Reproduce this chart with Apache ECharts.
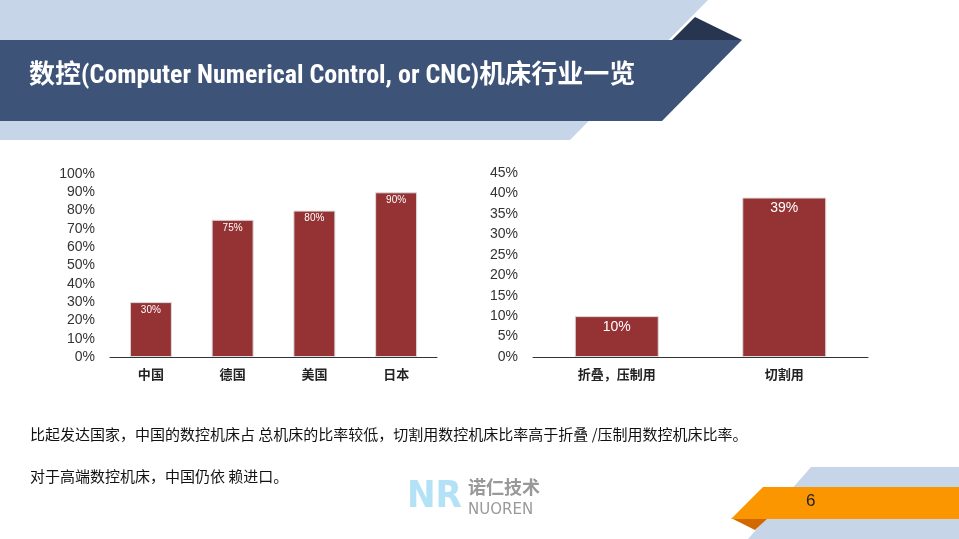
<!DOCTYPE html>
<html><head><meta charset="utf-8">
<script src="https://cdn.jsdelivr.net/npm/echarts@6/dist/echarts.min.js"></script>
<style>html,body{margin:0;padding:0;background:#fff}#c{width:959px;height:539px}</style>
</head><body><div id="c"></div>
<script>
// left chart: share of CNC machine tools by country
var countries = ['中国', '德国', '美国', '日本'];
var cncShare = [30, 75, 80, 90];
// right chart: CNC share by machine type
var machineTypes = ['折叠，压制用', '切割用'];
var typeShare = [10, 39];

var barColor = '#943234';
var font = 'Arial, "Liberation Sans", "Noto Sans CJK SC", sans-serif';

var chart = echarts.init(document.getElementById('c'));

function poly(points, color) {
  return { type: 'polygon', shape: { points: points }, style: { fill: color }, silent: true };
}

chart.setOption({
  animation: false,
  grid: [
    { left: 110, right: 522, top: 174, bottom: 182 },
    { left: 533, right: 91, top: 173, bottom: 182 }
  ],
  xAxis: [
    { gridIndex: 0, type: 'category', data: countries,
      axisLine: { lineStyle: { color: '#333', width: 1 } }, axisTick: { show: false },
      axisLabel: { color: '#222', fontSize: 13, fontWeight: 'bold', fontFamily: font, margin: 12 } },
    { gridIndex: 1, type: 'category', data: machineTypes,
      axisLine: { lineStyle: { color: '#333', width: 1 } }, axisTick: { show: false },
      axisLabel: { color: '#222', fontSize: 13, fontWeight: 'bold', fontFamily: font, margin: 12 } }
  ],
  yAxis: [
    { gridIndex: 0, type: 'value', min: 0, max: 100, interval: 10,
      axisLine: { show: false }, axisTick: { show: false }, splitLine: { show: false },
      axisLabel: { color: '#333', fontSize: 14, fontFamily: font, margin: 15, formatter: '{value}%' } },
    { gridIndex: 1, type: 'value', min: 0, max: 45, interval: 5,
      axisLine: { show: false }, axisTick: { show: false }, splitLine: { show: false },
      axisLabel: { color: '#333', fontSize: 14, fontFamily: font, margin: 15, formatter: '{value}%' } }
  ],
  series: [
    { type: 'bar', xAxisIndex: 0, yAxisIndex: 0, data: cncShare, barWidth: 42,
      itemStyle: { color: barColor, borderColor: '#ddd', borderWidth: 1 },
      label: { show: true, position: 'insideTop', distance: 3, color: '#fff', fontSize: 10, fontFamily: font, formatter: '{c}%' } },
    { type: 'bar', xAxisIndex: 1, yAxisIndex: 1, data: typeShare, barWidth: 84,
      itemStyle: { color: barColor, borderColor: '#ddd', borderWidth: 1 },
      label: { show: true, position: 'insideTop', distance: 4, color: '#fff', fontSize: 14, fontFamily: font, formatter: '{c}%' } }
  ],
  graphic: [
    poly([[0, 0], [708, 0], [570, 140], [0, 140]], '#c7d5e8'),
    poly([[695, 17], [742, 40], [672, 40]], '#283550'),
    poly([[0, 40], [742, 40], [662, 121], [0, 121]], '#3e5378'),
    { type: 'text', left: 29, top: 63, silent: true,
      style: { text: '数控(Computer Numerical Control, or CNC)机床行业一览', fill: '#fff',
        font: 'bold 26px "Roboto Condensed", "Liberation Sans Narrow", "Noto Sans CJK SC", sans-serif' } },
    poly([[811, 467], [959, 467], [959, 539], [748, 539]], '#c7d5e8'),
    poly([[731, 518], [768, 518], [755, 530]], '#d06a00'),
    poly([[763, 487], [959, 487], [959, 519], [731, 519]], '#fb9600'),
    { type: 'text', left: 806, top: 493, silent: true,
      style: { text: '6', fill: '#222', font: '17px Arial, sans-serif' } },
    { type: 'text', left: 30, top: 427, silent: true,
      style: { text: '比起发达国家，中国的数控机床占 总机床的比率较低，切割用数控机床比率高于折叠 /压制用数控机床比率。',
        fill: '#111', font: '15px "Noto Sans CJK SC", sans-serif' } },
    { type: 'text', left: 30, top: 469, silent: true,
      style: { text: '对于高端数控机床，中国仍依 赖进口。', fill: '#111', font: '15px "Noto Sans CJK SC", sans-serif' } },
    { type: 'text', left: 407, top: 478, silent: true,
      style: { text: 'NR', fill: '#b3e2f6', font: 'bold 38px "DejaVu Sans Condensed", sans-serif' } },
    { type: 'text', left: 468, top: 478, silent: true,
      style: { text: '诺仁技术', fill: '#999', font: 'bold 18px "Noto Sans CJK SC", sans-serif' } },
    { type: 'text', left: 468, top: 503, silent: true,
      style: { text: 'NUOREN', fill: '#999', font: '15px "DejaVu Sans", sans-serif' } }
  ]
});
</script></body></html>
